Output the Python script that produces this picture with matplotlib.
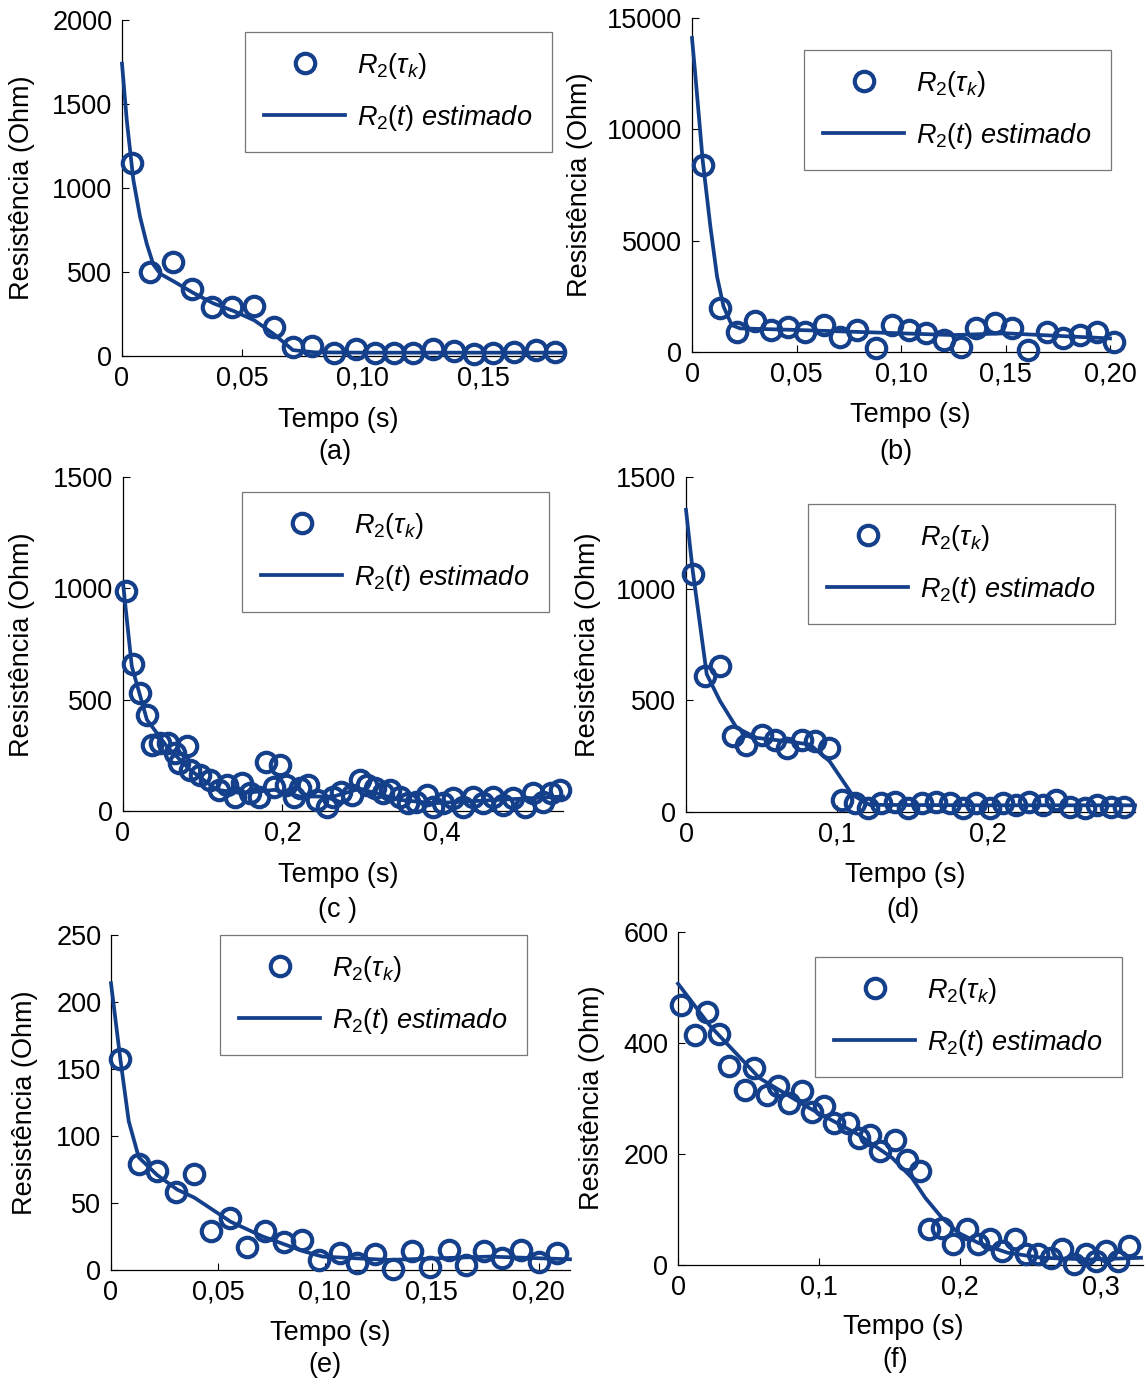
import numpy as np
from matplotlib import pyplot as plt

plt.rcParams['font.family'] = ['Liberation Sans', 'DejaVu Sans']
plt.rcParams['mathtext.fontset'] = 'custom'
plt.rcParams['mathtext.rm'] = 'Liberation Sans'
plt.rcParams['mathtext.it'] = 'Liberation Sans:italic'

W, H = 1145, 1379
COR = '#143f8a'
FS = 19.5

# (a)
t_a = [0.004, 0.0117, 0.0212, 0.029, 0.0375, 0.0458, 0.055, 0.063, 0.071, 0.079, 0.088,
       0.097, 0.105, 0.113, 0.121, 0.129, 0.138, 0.146, 0.154, 0.163, 0.172, 0.180]
r_a = [1150, 500, 560, 400, 290, 290, 300, 170, 55, 60, 20,
       40, 20, 20, 20, 40, 30, 10, 15, 25, 35, 25]
ta_est = [0, 0.002, 0.0047, 0.0075, 0.0103, 0.013, 0.0159, 0.0215, 0.0298, 0.038, 0.0465,
          0.055, 0.063, 0.071, 0.08, 0.1, 0.13, 0.16, 0.184]
ra_est = [1740, 1400, 1050, 828, 667, 545, 489, 444, 374, 313, 267,
          212, 131, 35, 22, 20, 20, 20, 20]

# (b)
t_b = [0.0051, 0.0135, 0.0215, 0.030, 0.038, 0.046, 0.054, 0.063, 0.071, 0.079, 0.088, 0.0955,
       0.104, 0.112, 0.1205, 0.1285, 0.136, 0.145, 0.153, 0.161, 0.170, 0.1775, 0.1855, 0.194, 0.202]
r_b = [8400, 1960, 910, 1400, 990, 1140, 910, 1210, 690, 990, 160, 1210,
       990, 840, 540, 240, 1060, 1290, 1060, 90, 910, 610, 760, 910, 460]
tb_est = [0, 0.0016, 0.0051, 0.0088, 0.012, 0.0151, 0.019, 0.023, 0.05, 0.1, 0.125, 0.15, 0.2]
rb_est = [14100, 12440, 8620, 5630, 3380, 2040, 1210, 1060, 990, 840, 760, 840, 610]

# (c)
t_c = [0.004, 0.012, 0.0217, 0.030, 0.036, 0.047, 0.057, 0.0656, 0.0697, 0.080, 0.084, 0.097,
       0.109, 0.120, 0.130, 0.141, 0.149, 0.159, 0.170, 0.180, 0.189, 0.197, 0.205, 0.214,
       0.222, 0.2326, 0.243, 0.2555, 0.264, 0.274, 0.287, 0.297, 0.306, 0.316, 0.3265, 0.335,
       0.347, 0.358, 0.368, 0.381, 0.389, 0.402, 0.414, 0.427, 0.439, 0.452, 0.464, 0.477,
       0.489, 0.504, 0.514, 0.527, 0.537, 0.548]
r_c = [988, 658, 530, 432, 297, 305, 305, 260, 215, 290, 185, 162,
       140, 95, 117, 65, 125, 80, 65, 222, 110, 207, 117, 65,
       102, 117, 50, 20, 65, 87, 72, 140, 117, 102, 80, 95,
       65, 35, 42, 72, 20, 35, 57, 20, 65, 35, 65, 27,
       57, 20, 80, 42, 80, 95]
tc_est = [0, 0.011, 0.03, 0.055, 0.084, 0.118, 0.15, 0.19, 0.222, 0.264, 0.297, 0.347,
          0.39, 0.47, 0.552]
rc_est = [1025, 650, 410, 290, 185, 95, 80, 95, 65, 65, 100, 50,
          35, 50, 65]

# (d)
t_d = [0.0044, 0.0126, 0.0225, 0.031, 0.040, 0.050, 0.0588, 0.0665, 0.0764, 0.085, 0.0947,
       0.103, 0.112, 0.1205, 0.129, 0.138, 0.147, 0.156, 0.1656, 0.1744, 0.183, 0.192,
       0.201, 0.2097, 0.2185, 0.227, 0.236, 0.245, 0.254, 0.2637, 0.272, 0.281, 0.290]
r_d = [1067, 610, 655, 340, 302, 347, 324, 287, 324, 317, 287,
       54, 39, 17, 39, 47, 17, 39, 47, 39, 17, 39,
       17, 39, 32, 47, 32, 54, 24, 17, 32, 24, 24]
td_est = [0, 0.0044, 0.0137, 0.0225, 0.0335, 0.0467, 0.0665, 0.082, 0.095, 0.11, 0.1216,
          0.2, 0.297]
rd_est = [1353, 1083, 617, 497, 377, 332, 317, 302, 227, 77, 32,
          30, 30]

# (e)
t_e = [0.0044, 0.0129, 0.0215, 0.0305, 0.0386, 0.0467, 0.0558, 0.0636, 0.0721, 0.0807, 0.0893,
       0.0975, 0.1069, 0.115, 0.1235, 0.132, 0.1407, 0.149, 0.158, 0.166, 0.1745, 0.183,
       0.1916, 0.200, 0.2084]
r_e = [157.5, 79, 74, 58, 72, 29, 39, 17.5, 29, 21, 22.5,
       7.5, 12.5, 5, 12, 1, 14, 2.5, 15, 4, 14, 9,
       15, 6, 12.5]
te_est = [0, 0.0044, 0.0083, 0.013, 0.0215, 0.031, 0.039, 0.056, 0.071, 0.09, 0.099,
          0.13, 0.177, 0.2147]
re_est = [214, 157, 111, 84, 71, 60, 54, 36, 25, 14, 10,
          7.5, 10, 8]

# (f)
t_f = [0.0024, 0.0118, 0.0207, 0.0294, 0.0365, 0.0478, 0.0542, 0.0629, 0.0707, 0.0789,
       0.0879, 0.0954, 0.1037, 0.1107, 0.1208, 0.1284, 0.1366, 0.1437, 0.1543, 0.1625,
       0.172, 0.178, 0.1873, 0.1955, 0.205, 0.2127, 0.2214, 0.2297, 0.239, 0.2473,
       0.2556, 0.2645, 0.2726, 0.281, 0.2897, 0.2968, 0.3039, 0.3126, 0.3204]
r_f = [468, 414, 455, 417, 359, 316, 355, 307, 323, 292,
       313, 275, 286, 256, 256, 229, 235, 205, 226, 190,
       169, 64, 67, 38, 64, 38, 46, 25, 46, 19,
       19, 13, 28, 1, 19, 7, 25, 7, 34]
tf_est = [0, 0.0224, 0.0577, 0.093, 0.128, 0.152, 0.166, 0.1755, 0.1873, 0.199, 0.213,
          0.234, 0.258, 0.293, 0.3286]
rf_est = [507, 432, 337, 283, 235, 193, 157, 121, 85, 58, 40,
          22, 13, 10, 13]

paineis = [
    # dados, estimado, xlim, ticks, caixa px (l, r, t, b), legenda px, textos
    dict(t=t_a, r=r_a, te=ta_est, re=ra_est, xlim=0.184, xt=[0, 0.05, 0.10, 0.15],
         xl=['0', '0,05', '0,10', '0,15'], ylim=2000, yt=[0, 500, 1000, 1500, 2000],
         box=(122, 565, 20, 356), leg=(245, 32), xlab=(338, 420), ylab=(22, 188),
         cap=(335, 452, '(a)')),
    dict(t=t_b, r=r_b, te=tb_est, re=rb_est, xlim=0.2, xt=[0, 0.05, 0.10, 0.15, 0.20],
         xl=['0', '0,05', '0,10', '0,15', '0,20'], ylim=15000, yt=[0, 5000, 10000, 15000],
         box=(692, 1110, 18, 352), leg=(804, 50), xlab=(910, 415), ylab=(580, 185),
         cap=(896, 452, '(b)')),
    dict(t=t_c, r=r_c, te=tc_est, re=rc_est, xlim=0.552, xt=[0, 0.2, 0.4],
         xl=['0', '0,2', '0,4'], ylim=1500, yt=[0, 500, 1000, 1500],
         box=(123, 563, 477, 811), leg=(242, 492), xlab=(338, 875), ylab=(22, 645),
         cap=(337, 910, '(c )')),
    dict(t=t_d, r=r_d, te=td_est, re=rd_est, xlim=0.297, xt=[0, 0.1, 0.2],
         xl=['0', '0,1', '0,2'], ylim=1500, yt=[0, 500, 1000, 1500],
         box=(686, 1135, 477, 812), leg=(808, 504), xlab=(905, 875), ylab=(588, 645),
         cap=(903, 910, '(d)')),
    dict(t=t_e, r=r_e, te=te_est, re=re_est, xlim=0.2147, xt=[0, 0.05, 0.10, 0.15, 0.20],
         xl=['0', '0,05', '0,10', '0,15', '0,20'], ylim=250, yt=[0, 50, 100, 150, 200, 250],
         box=(111, 570, 935, 1270), leg=(220, 935), xlab=(330, 1333), ylab=(25, 1103),
         cap=(325, 1365, '(e)')),
    dict(t=t_f, r=r_f, te=tf_est, re=rf_est, xlim=0.33, xt=[0, 0.1, 0.2, 0.3],
         xl=['0', '0,1', '0,2', '0,3'], ylim=600, yt=[0, 200, 400, 600],
         box=(678, 1143, 932, 1265), leg=(815, 957), xlab=(903, 1327), ylab=(592, 1098),
         cap=(895, 1360, '(f)')),
]

fig = plt.figure(figsize=(W / 100, H / 100), dpi=100)

for p in paineis:
    l, r, t, b = p['box']
    ax = fig.add_axes([l / W, 1 - b / H, (r - l) / W, (b - t) / H])
    ax.plot(p['t'], p['r'], 'o', markerfacecolor='none', markeredgecolor=COR,
            markersize=14, markeredgewidth=3.0, clip_on=False, zorder=3,
            label=r'$R_2(\tau_k)$')
    ax.plot(p['te'], p['re'], '-', color=COR, lw=2.7, clip_on=False, zorder=4,
            label=r'$R_2(t)$ estimado')
    ax.set_xlim(0, p['xlim'])
    ax.set_ylim(0, p['ylim'])
    ax.set_xticks(p['xt'], p['xl'])
    ax.set_yticks(p['yt'], [str(v) for v in p['yt']])
    ax.tick_params(direction='in', length=5, width=0.8, labelsize=FS, pad=7)
    for s in ['top', 'right']:
        ax.spines[s].set_visible(False)
    for s in ['left', 'bottom']:
        ax.spines[s].set_linewidth(0.9)
    ax.patch.set_alpha(0)

    lx, ly = p['leg']
    leg = ax.legend(loc='upper left', bbox_to_anchor=(lx / W, 1 - ly / H),
                    bbox_transform=fig.transFigure, borderaxespad=0,
                    prop={'size': FS, 'style': 'italic'}, handlelength=3.0,
                    handletextpad=0.45, borderpad=0.7, labelspacing=0.8,
                    fancybox=False, framealpha=1, edgecolor='#777777', numpoints=1)
    leg.get_frame().set_linewidth(0.9)

    fig.text(p['xlab'][0] / W, 1 - p['xlab'][1] / H, 'Tempo (s)', fontsize=FS,
             ha='center', va='center')
    fig.text(p['ylab'][0] / W, 1 - p['ylab'][1] / H, 'Resistência (Ohm)', fontsize=FS,
             ha='center', va='center', rotation=90)
    fig.text(p['cap'][0] / W, 1 - p['cap'][1] / H, p['cap'][2], fontsize=FS,
             ha='center', va='center')

fig.savefig('out.png', dpi=100)
